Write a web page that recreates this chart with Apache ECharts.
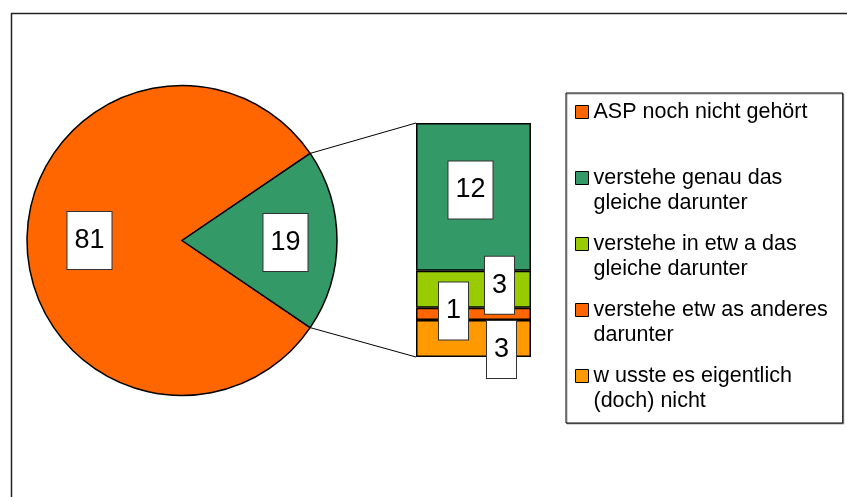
<!doctype html>
<html lang="de">
<head>
    <meta charset="utf-8" />
    <title>ASP Umfrage</title>
    <script src="https://cdn.jsdelivr.net/npm/echarts@6/dist/echarts.min.js"></script>
    <style>
        html, body { margin: 0; padding: 0; background: #fff; }
        #chart { width: 847px; height: 497px; }
    </style>
</head>
<body>
<div id="chart"></div>
<script>
    // pie: the big slice and the "rest" which is split up in the bar
    var pieNames = ['ASP noch nicht gehört', 'Rest'];
    var pieValues = [81, 19];

    // bar segments, from bottom to top
    var barNames = [
        'w usste es eigentlich (doch) nicht',
        'verstehe etw as anderes darunter',
        'verstehe in etw a das gleiche darunter',
        'verstehe genau das gleiche darunter'
    ];
    var barValues = [3, 1, 3, 12];

    // legend order and wrapped text like in the original
    var legendNames = [
        'ASP noch nicht gehört',
        'verstehe genau das gleiche darunter',
        'verstehe in etw a das gleiche darunter',
        'verstehe etw as anderes darunter',
        'w usste es eigentlich (doch) nicht'
    ];
    var legendLines = [
        ['ASP noch nicht gehört', ''],
        ['verstehe genau das', 'gleiche darunter'],
        ['verstehe in etw a das', 'gleiche darunter'],
        ['verstehe etw as anderes', 'darunter'],
        ['w usste es eigentlich', '(doch) nicht']
    ];

    var pieColors = ['#FF6600', '#339966'];
    var barColors = ['#FF9900', '#FF6600', '#99CC00', '#339966'];

    var pieCenter = [182, 240.5];
    var pieRadius = 155;
    var barGrid = { left: 416, top: 123, width: 115, height: 234 };

    var total = pieValues[0] + pieValues[1];
    var restTotal = barValues.reduce(function (a, b) { return a + b; }, 0);
    // rest wedge centred on the right side
    var halfRest = 180 * pieValues[1] / total;
    var startAngle = 360 * pieValues[0] / total + halfRest;

    var boxLabel = {
        show: true,
        formatter: '{c}',
        color: '#000',
        fontFamily: 'Liberation Sans',
        fontSize: 27,
        lineHeight: 31,
        backgroundColor: '#fff',
        borderColor: '#333',
        borderWidth: 1,
        padding: [12, 7, 14, 7]
    };

    var pieLabelShift = [[-6, 0], [11.5, 1]];
    var barLabelShift = [[28, 11], [-20, -3], [26, -4], [-3, -7]];

    var barSeries = barNames.map(function (name, i) {
        return {
            name: name,
            type: 'bar',
            stack: 'rest',
            barWidth: '100%',
            data: [barValues[i]],
            itemStyle: { color: barColors[i], borderColor: '#000', borderWidth: 1.5 },
            label: Object.assign({ position: 'inside' }, boxLabel),
            labelLayout: { dx: barLabelShift[i][0], dy: barLabelShift[i][1] },
            emphasis: { disabled: true },
            z: 3
        };
    });

    var option = {
        backgroundColor: '#fff',
        animation: false,
        legend: {
            orient: 'vertical',
            left: 566,
            top: 93,
            data: legendNames,
            selectedMode: false,
            icon: 'rect',
            itemWidth: 13,
            itemHeight: 13,
            itemGap: -9,
            itemStyle: { borderColor: '#000', borderWidth: 1 },
            padding: [-18.5, 15, 9.5, 9],
            borderColor: '#000',
            borderWidth: 1,
            backgroundColor: '#fff',
            shadowColor: 'rgba(0,0,0,0.35)',
            shadowOffsetX: 1,
            shadowOffsetY: 1,
            textStyle: {
                color: '#000',
                fontFamily: 'Liberation Sans',
                fontSize: 21.5,
                lineHeight: 25
            },
            formatter: function (name) {
                var idx = legendNames.indexOf(name);
                return '\n' + legendLines[idx].join('\n');
            }
        },
        grid: {
            left: barGrid.left,
            top: barGrid.top,
            width: barGrid.width,
            height: barGrid.height
        },
        xAxis: { type: 'category', data: ['Rest'], show: false },
        yAxis: { type: 'value', min: 0, max: restTotal, show: false },
        series: [{
            type: 'pie',
            center: pieCenter,
            radius: pieRadius,
            startAngle: startAngle,
            clockwise: true,
            data: pieNames.map(function (n, i) {
                return { name: n, value: pieValues[i], itemStyle: { color: pieColors[i] } };
            }),
            itemStyle: { borderColor: '#000', borderWidth: 1.5 },
            label: Object.assign({ position: 'inside' }, boxLabel),
            labelLine: { show: false },
            labelLayout: function (params) {
                var s = pieLabelShift[params.dataIndex];
                return { dx: s[0], dy: s[1] };
            },
            emphasis: { disabled: true }
        }].concat(barSeries)
    };

    var chart = echarts.init(document.getElementById('chart'), null, { renderer: 'canvas' });
    chart.setOption(option);

    // connector lines: from the rest wedge ends to the bar corners
    var a = halfRest * Math.PI / 180;
    var wedgeTop = [pieCenter[0] + pieRadius * Math.cos(a), pieCenter[1] - pieRadius * Math.sin(a)];
    var wedgeBottom = [pieCenter[0] + pieRadius * Math.cos(a), pieCenter[1] + pieRadius * Math.sin(a)];
    var barTop = chart.convertToPixel({ gridIndex: 0 }, [0, restTotal]);
    var barBottom = chart.convertToPixel({ gridIndex: 0 }, [0, 0]);
    var barLeft = barTop[0] - barGrid.width / 2;

    chart.setOption({
        graphic: [
            {
                type: 'rect',
                left: 9,
                top: 11,
                shape: { width: 900, height: 600 },
                style: { fill: null, stroke: '#222', lineWidth: 1.5 },
                silent: true,
                z: -1
            },
            {
                type: 'line',
                shape: { x1: wedgeTop[0], y1: wedgeTop[1], x2: barLeft, y2: barTop[1] },
                style: { stroke: '#000', lineWidth: 1 },
                silent: true
            },
            {
                type: 'line',
                shape: { x1: wedgeBottom[0], y1: wedgeBottom[1], x2: barLeft, y2: barBottom[1] },
                style: { stroke: '#000', lineWidth: 1 },
                silent: true
            }
        ]
    });
</script>
</body>
</html>
